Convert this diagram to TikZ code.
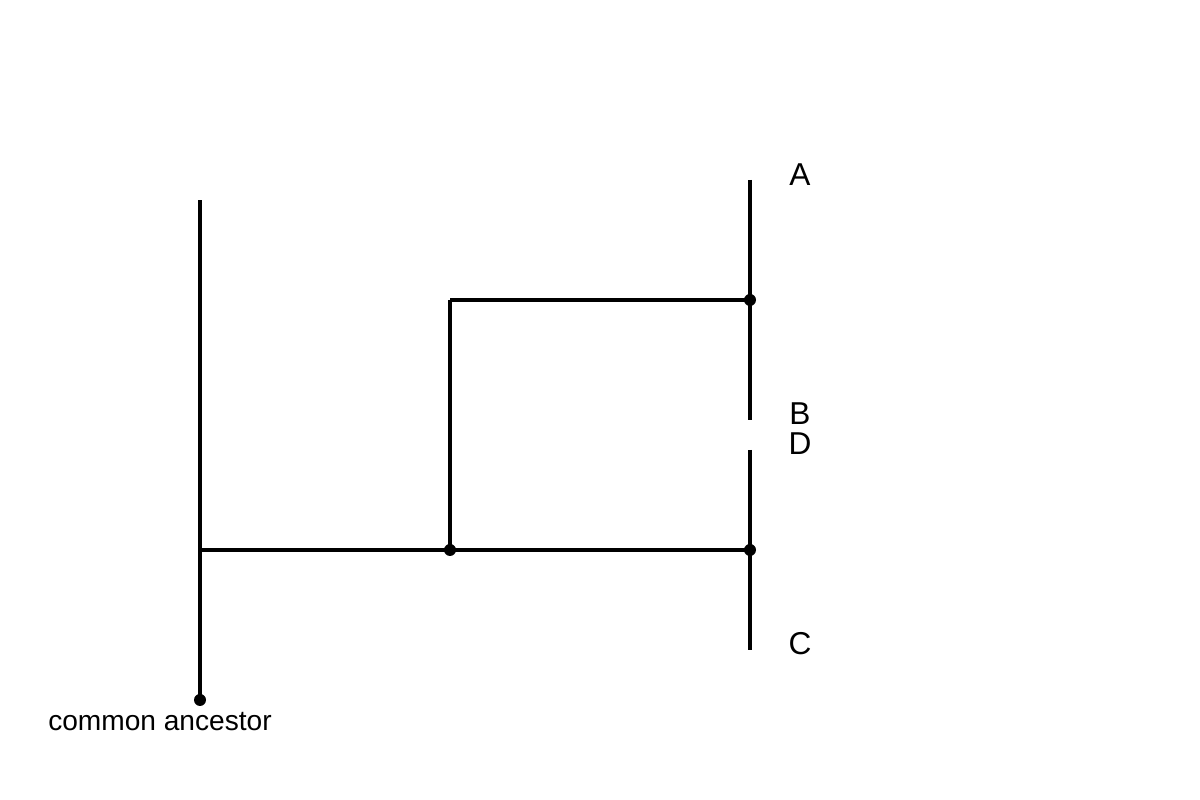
\documentclass[tikz,border=0pt]{standalone}
\usepackage{fontspec}
\setmainfont{Liberation Sans}
\usepackage{tikz}
\usetikzlibrary{positioning}

\tikzset{
branch/.style={black, line width=0.9pt},
junction/.style={circle, fill=black, inner sep=0pt, minimum size=0.12cm},
tip/.style={inner sep=0pt, font=\fontsize{9}{11}\selectfont},
}

\begin{document}
\begin{tikzpicture}

\useasboundingbox (0,0) rectangle (12,8);

% junctions of the tree
\node[junction] (root) at (2,1) {};
\coordinate (top) at (2,6);
\coordinate (left) at (2,2.5);
\node[junction] (mid) at (4.5,2.5) {};
\node[junction] (low) at (7.5,2.5) {};
\coordinate (midtop) at (4.5,5);
\node[junction] (up) at (7.5,5) {};

% ends of the leaves
\coordinate (endA) at (7.5,6.2);
\coordinate (endB) at (7.5,3.8);
\coordinate (endD) at (7.5,3.5);
\coordinate (endC) at (7.5,1.5);

\draw[branch] (root.center)--(top);
\draw[branch] (left)--(low.center);
\draw[branch] (mid.center)--(midtop);
\draw[branch] (midtop)--(up.center);
\draw[branch] (endA)--(endB);
\draw[branch] (endD)--(endC);

\node[tip] (A) at (8,6.255) {A};
\node[tip] (B) at (8,3.865) {B};
\node[tip] (D) at (8,3.565) {D};
\node[tip] (C) at (8,1.565) {C};

\node[inner sep=0pt, font=\fontsize{8}{10}\selectfont] (ancestor) at (1.6,0.785) {common ancestor};

\end{tikzpicture}
\end{document}
